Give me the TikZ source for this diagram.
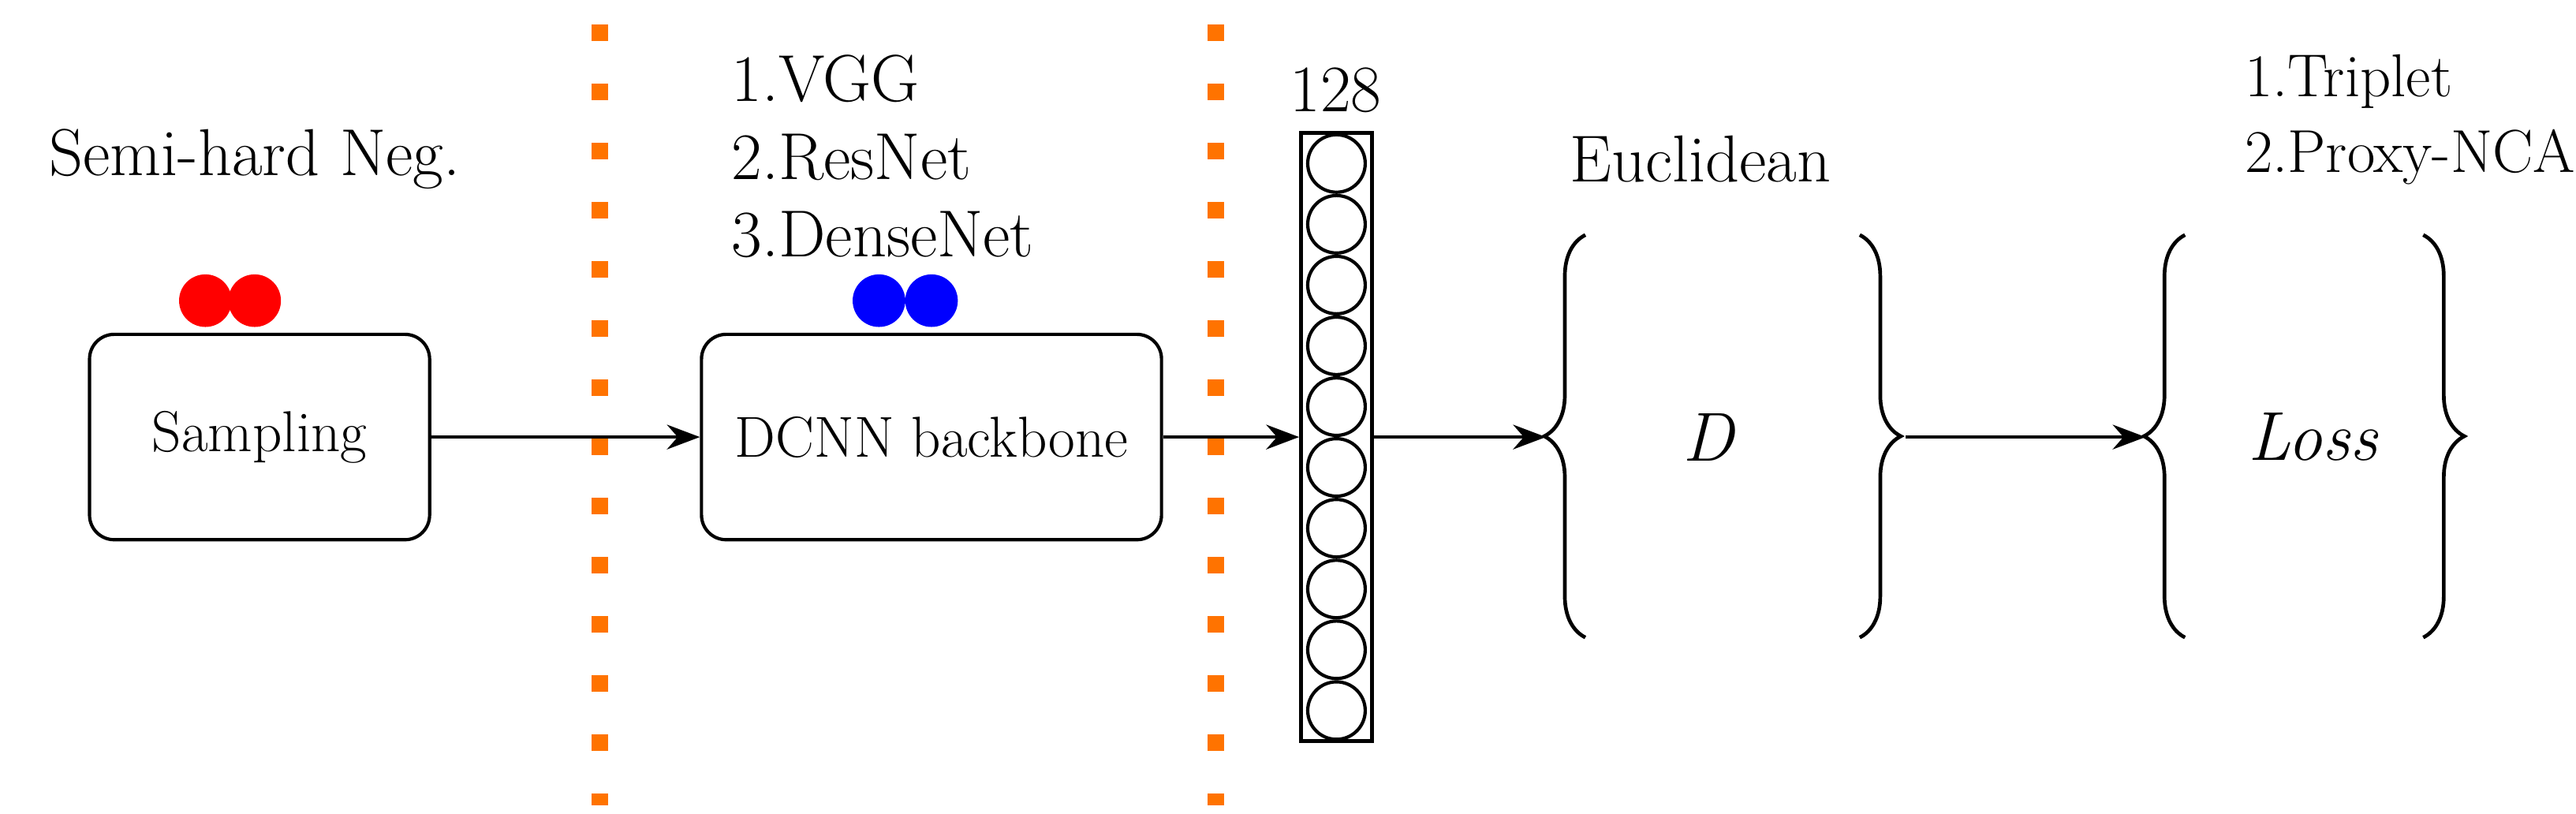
\documentclass[tikz,border=0pt]{standalone}
\usetikzlibrary{decorations.pathreplacing,arrows.meta}
\begin{document}
\begin{tikzpicture}[x=0.2mm,y=-0.2mm,
  box/.style={draw,line width=0.4mm,rounded corners=3mm,minimum width=41.4mm,minimum height=25mm,font=\fontsize{20}{22}\selectfont},
  wide/.style={box,minimum width=56mm},
  conn/.style={line width=0.4mm,-{Stealth[length=4mm,width=3mm]}},
  dots/.style={orange!90!red,line width=2mm,dash pattern=on 2mm off 5.2mm},
  lbl/.style={font=\fontsize{23}{27}\selectfont},
  br/.style={line width=0.45mm,decorate,decoration={brace,amplitude=5mm,aspect=0.5}}]
\useasboundingbox (0,0) rectangle (1568,495);
\node[box] (samp) at (158,266) {Sampling};
\node[wide] (dcnn) at (567,266) {DCNN backbone};
\node[lbl] (semi) at (155,97) {Semi-hard Neg.};
\fill[red] (125,183) circle (16) (155,183) circle (16);
\fill[blue] (535,183) circle (16) (567,183) circle (16);
\node[lbl,align=left,anchor=north west,inner sep=0pt] (nets) at (445,33) {1.VGG\\2.ResNet\\3.DenseNet};
\draw[dots] (365,15) -- (365,490);
\draw[dots] (740,15) -- (740,490);
\node[draw,line width=0.5mm,minimum width=8.6mm,minimum height=74mm,inner sep=0pt] (col) at (813.5,266) {};
\foreach \i in {0,...,9} \draw[line width=0.4mm] (813.5,99.5+\i*37) circle (17.5);
\node[lbl] (n128) at (813,55) {128};
\draw[conn] (samp) -- (dcnn);
\draw[conn] (dcnn) -- (col);
\draw[br] (965,388) -- (965,143);
\draw[br] (1132,143) -- (1132,388);
\coordinate (dl) at (941,266);
\coordinate (dr) at (1160,266);
\node[font=\fontsize{24}{28}\selectfont\itshape] (D) at (1040,266) {D};
\node[lbl] (eu) at (1035,97) {Euclidean};
\draw[br] (1330,388) -- (1330,143);
\draw[br] (1475,143) -- (1475,388);
\coordinate (ll) at (1306,266);
\node[font=\fontsize{24}{28}\selectfont\itshape] (loss) at (1408,266) {Loss};
\node[font=\fontsize{21}{26}\selectfont,align=left,anchor=north west,inner sep=0pt] (lt) at (1366,33) {1.Triplet\\2.Proxy-NCA};
\draw[conn] (col.east) -- (dl);
\draw[conn] (dr) -- (ll);
\end{tikzpicture}
\end{document}
